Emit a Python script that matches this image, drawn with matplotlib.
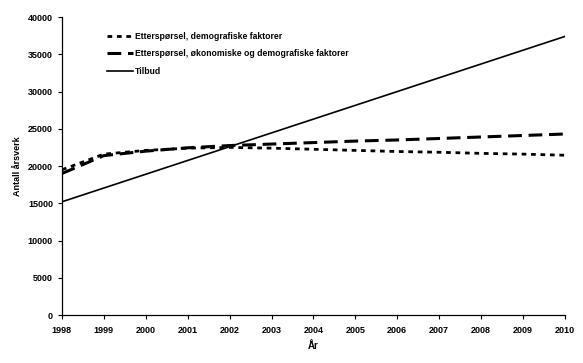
import numpy as np
import matplotlib.pyplot as plt

plt.rcParams['font.family'] = ['Liberation Sans', 'DejaVu Sans']

# Data
years = list(range(1998, 2011))
demografisk = [19500, 21600, 22100, 22400, 22500, 22400, 22250, 22100, 21950, 21850, 21700, 21600, 21450]
okonomisk = [19000, 21400, 22000, 22450, 22750, 22950, 23150, 23350, 23500, 23700, 23900, 24100, 24300]
tilbud = [15200, 17050, 18900, 20750, 22600, 24450, 26300, 28150, 30000, 31850, 33700, 35550, 37400]

fig = plt.figure(figsize=(5.83, 3.63), dpi=100)
ax = fig.add_axes([0.1063, 0.1322, 0.8627, 0.8208])

ax.plot(years, demografisk, color='black', lw=2.0, linestyle=(0, (1.7, 1.7)),
        label='Etterspørsel, demografiske faktorer')
ax.plot(years, okonomisk, color='black', lw=2.2, linestyle=(0, (4.5, 2.2)),
        label='Etterspørsel, økonomiske og demografiske faktorer')
ax.plot(years, tilbud, color='black', lw=1.2, label='Tilbud')

ax.set_xlim(1998, 2010)
ax.set_ylim(0, 40000)
ax.set_xticks(years)
ax.set_yticks(np.arange(0, 40001, 5000))
ax.tick_params(labelsize=6.5, length=3, direction='out', width=0.8)
for lab in ax.get_xticklabels() + ax.get_yticklabels():
    lab.set_fontweight('bold')
ax.tick_params(axis='x', pad=5)

ax.spines['top'].set_visible(False)
ax.spines['right'].set_visible(False)
ax.spines['left'].set_linewidth(0.9)
ax.spines['bottom'].set_linewidth(0.9)

ax.set_xlabel('År', fontsize=7, fontweight='bold', labelpad=4)
ax.set_ylabel('Antall årsverk', fontsize=6.5, fontweight='bold', labelpad=4)

leg = ax.legend(loc='upper left', bbox_to_anchor=(0.075, 0.975), frameon=False,
                fontsize=6.2, handlelength=3.0, handletextpad=0.2, labelspacing=0.95)
for t in leg.get_texts():
    t.set_fontweight('bold')

fig.savefig('out.png', dpi=100)
